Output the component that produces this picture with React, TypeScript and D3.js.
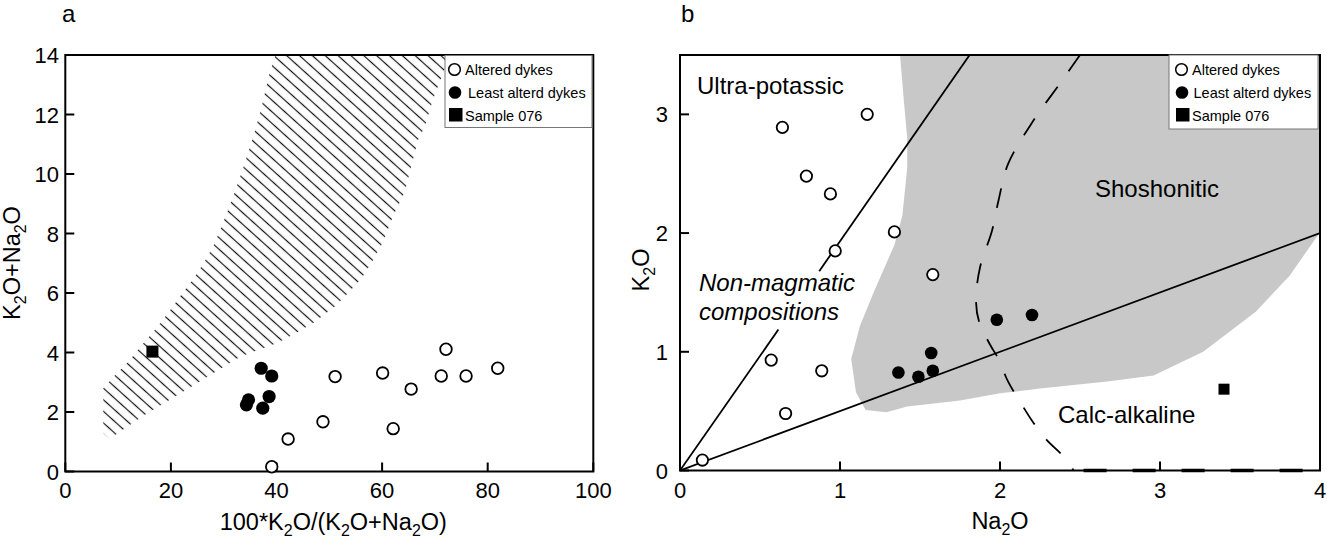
import React from "react";
import * as d3 from "d3";

// ---------- Panel a data ----------
const alteredA_x = [72.1, 51.1, 60.1, 65.5, 71.2, 75.9, 81.9, 48.8, 62.1, 42.2, 39.1];
const alteredA_y = [4.11, 3.19, 3.31, 2.77, 3.21, 3.21, 3.47, 1.67, 1.44, 1.09, 0.16];
const leastA_x = [37.1, 39.1, 38.6, 34.7, 34.3, 37.4];
const leastA_y = [3.47, 3.21, 2.52, 2.41, 2.24, 2.13];
const sampleA_x = [16.5];
const sampleA_y = [4.03];
const xTicksA = [0, 20, 40, 60, 80, 100];
const yTicksA = [0, 2, 4, 6, 8, 10, 12, 14];

// hatched field (upper-left boundary bottom->top, lower-right boundary top->bottom)
const hatchUpperX = [7.2, 7.2, 9.5, 12, 14.8, 17.2, 19.5, 21.8, 24.1, 26.2, 28.0, 29.6, 31.8, 34.0, 35.6, 37.2, 38.7, 39.8];
const hatchUpperY = [1.28, 2.8, 3.25, 3.7, 4.31, 4.81, 5.34, 5.9, 6.44, 7.0, 7.56, 8.23, 9.24, 10.36, 11.25, 12.26, 13.4, 14];
const hatchLowerX = [74, 72.2, 69.6, 68.1, 66.8, 64.3, 62.1, 60.2, 58.3, 56.1, 53.5, 51.0, 46.9, 43.1, 40.0, 33.1, 23.0, 15, 8.4];
const hatchLowerY = [14, 13.7, 12.49, 11.6, 11.14, 9.4, 8.6, 7.72, 7.11, 6.49, 5.99, 5.54, 4.98, 4.6, 4.31, 3.86, 2.76, 1.9, 1.1];

// ---------- Panel b data ----------
const alteredB_na = [0.14, 0.57, 0.66, 0.886, 0.97, 1.34, 1.58, 0.64, 1.17, 0.79, 0.94];
const alteredB_k = [0.088, 0.93, 0.48, 0.84, 1.85, 2.01, 1.65, 2.89, 3.0, 2.48, 2.33];
const leastB_na = [1.365, 1.49, 1.58, 1.57, 1.98, 2.2];
const leastB_k = [0.826, 0.79, 0.84, 0.99, 1.27, 1.31];
const sampleB_na = [3.4];
const sampleB_k = [0.685];
const xTicksB = [0, 1, 2, 3, 4];
const yTicksB = [0, 1, 2, 3];

const grayX = [1.375, 1.4, 1.42, 1.42, 1.39, 1.34, 1.21, 1.125, 1.07, 1.1, 1.16, 1.29, 1.42, 1.75, 2.0, 2.25, 2.67, 2.96, 3.27, 3.6, 3.81, 3.97, 4.0, 4.0];
const grayY = [3.5, 3.1, 2.8, 2.55, 2.15, 1.9, 1.5, 1.22, 0.94, 0.66, 0.51, 0.49, 0.54, 0.59, 0.65, 0.69, 0.75, 0.8, 1.0, 1.34, 1.64, 1.95, 2.0, 3.5];

// ultra-potassic boundary (with gap for label), shoshonitic / calc-alkaline boundary
const line1Lower = [[0, 0], [0.615, 1.187]];
const line1Upper = [[0.87, 1.679], [1.81, 3.5]];
const line2 = [[0, 0], [4, 2]];
const dashX = [2.5, 2.375, 2.21, 2.05, 1.99, 1.95, 1.875, 1.85, 1.87, 1.94, 1.99, 2.05, 2.125, 2.21, 2.29, 2.41, 2.46];
const dashY = [3.5, 3.26, 2.95, 2.58, 2.27, 2.02, 1.71, 1.43, 1.25, 1.055, 0.94, 0.75, 0.58, 0.4, 0.26, 0.1, 0];
const dashAxis = [[2.46, 0], [4, 0]];

const legendLabels = ["Altered dykes", "Least alterd dykes", "Sample 076"];

const FONT = "'Liberation Sans', Arial, Helvetica, sans-serif";

const xA = d3.scaleLinear().domain([0, 100]).range([65.3, 593.3]);
const yA = d3.scaleLinear().domain([0, 14]).range([471.5, 55]);
const xB = d3.scaleLinear().domain([0, 4]).range([680, 1320]);
const yB = d3.scaleLinear().domain([0, 3.5]).range([470.5, 55]);

function Sub({ parts }: { parts: (string | [string])[] }) {
  const out: any[] = [];
  let down = false;
  parts.forEach((p, i) => {
    if (Array.isArray(p)) {
      out.push(
        <tspan key={i} fontSize="0.68em" dy={down ? 0 : 6}>
          {p[0]}
        </tspan>
      );
      down = true;
    } else {
      out.push(
        <tspan key={i} dy={down ? -6 : 0}>
          {p}
        </tspan>
      );
      down = false;
    }
  });
  return <>{out}</>;
}

function Legend({ x0, y0, w, h, cx, tx }: { x0: number; y0: number; w: number; h: number; cx: number; tx: number[] }) {
  const rows = [75, 97.5, 121];
  return (
    <g fontFamily={FONT} fontSize={14.5}>
      <rect x={x0} y={y0} width={w} height={h} fill="#fff" stroke="#777" strokeWidth={1} />
      <circle cx={cx} cy={69.5} r={5.8} fill="#fff" stroke="#000" strokeWidth={1.5} />
      <circle cx={cx + 0.5} cy={92.5} r={6.3} fill="#000" />
      <rect x={cx - 5.5} y={108} width={13.5} height={13.5} fill="#000" />
      {legendLabels.map((l, i) => (
        <text key={l} x={tx[i]} y={rows[i]} fill="#000">
          {l}
        </text>
      ))}
    </g>
  );
}

export default function App() {
  const lineA = d3.line<[number, number]>().x((d) => xA(d[0])).y((d) => yA(d[1]));
  const lineB = d3.line<[number, number]>().x((d) => xB(d[0])).y((d) => yB(d[1]));
  const curveB = d3
    .line<[number, number]>()
    .x((d) => xB(d[0]))
    .y((d) => yB(d[1]))
    .curve(d3.curveCatmullRom);

  const hatchPts: [number, number][] = [
    ...hatchUpperX.map((x, i) => [x, hatchUpperY[i]] as [number, number]),
    ...hatchLowerX.map((x, i) => [x, hatchLowerY[i]] as [number, number]),
  ];
  const grayPts: [number, number][] = grayX.map((x, i) => [x, grayY[i]]);
  const dashPts: [number, number][] = dashX.map((x, i) => [x, dashY[i]]);

  const tickLen = 9;

  return (
    <svg
      width={1327}
      height={544}
      style={{ position: "absolute", left: 0, top: 0, background: "#fff" }}
      fontFamily={FONT}
    >
      <defs>
        <pattern id="hatch" patternUnits="userSpaceOnUse" width={12} height={8.6} patternTransform="rotate(42)">
          <line x1={0} y1={4.3} x2={12} y2={4.3} stroke="#111" strokeWidth={1.2} />
        </pattern>
        <clipPath id="clipA">
          <rect x={xA(0)} y={yA(14)} width={xA(100) - xA(0)} height={yA(0) - yA(14)} />
        </clipPath>
        <clipPath id="clipB">
          <rect x={xB(0)} y={yB(3.5)} width={xB(4) - xB(0)} height={yB(0) - yB(3.5)} />
        </clipPath>
      </defs>

      {/* ---------------- Panel a ---------------- */}
      <text x={62} y={22} fontSize={24}>a</text>
      <g clipPath="url(#clipA)">
        <path d={(lineA(hatchPts) || "") + "Z"} fill="url(#hatch)" stroke="none" />
      </g>
      <rect x={xA(0)} y={yA(14)} width={xA(100) - xA(0)} height={yA(0) - yA(14)} fill="none" stroke="#000" strokeWidth={2} />
      {xTicksA.map((t) => (
        <g key={"xa" + t}>
          <line x1={xA(t)} x2={xA(t)} y1={yA(0)} y2={yA(0) - tickLen} stroke="#000" strokeWidth={2} />
          <text x={xA(t)} y={498} fontSize={22} textAnchor="middle">{t}</text>
        </g>
      ))}
      {yTicksA.map((t) => (
        <g key={"ya" + t}>
          <line x1={xA(0)} x2={xA(0) + tickLen} y1={yA(t)} y2={yA(t)} stroke="#000" strokeWidth={2} />
          <text x={59} y={yA(t) + 8} fontSize={22} textAnchor="end">{t}</text>
        </g>
      ))}
      <text x={(xA(0) + xA(100)) / 2 + 4} y={530} fontSize={23.5} textAnchor="middle">
        <Sub parts={["100*K", ["2"], "O/(K", ["2"], "O+Na", ["2"], "O)"]} />
      </text>
      <text transform={`translate(19.5,${263}) rotate(-90)`} fontSize={23.5} textAnchor="middle">
        <Sub parts={["K", ["2"], "O+Na", ["2"], "O"]} />
      </text>

      {alteredA_x.map((x, i) => (
        <circle key={"oa" + i} cx={xA(x)} cy={yA(alteredA_y[i])} r={5.8} fill="#fff" stroke="#000" strokeWidth={1.8} />
      ))}
      {leastA_x.map((x, i) => (
        <circle key={"fa" + i} cx={xA(x)} cy={yA(leastA_y[i])} r={6.6} fill="#000" />
      ))}
      {sampleA_x.map((x, i) => (
        <rect key={"sa" + i} x={xA(x) - 6} y={yA(sampleA_y[i]) - 6} width={12} height={12} fill="#000" />
      ))}
      <Legend x0={445} y0={55.5} w={147} h={72} cx={454.5} tx={[465, 468, 465]} />

      {/* ---------------- Panel b ---------------- */}
      <text x={681} y={22} fontSize={24}>b</text>
      <g clipPath="url(#clipB)">
        <path d={(lineB(grayPts) || "") + "Z"} fill="#c8c8c8" stroke="none" />
        <path d={lineB(line1Lower as any) || ""} fill="none" stroke="#000" strokeWidth={1.8} />
        <path d={lineB(line1Upper as any) || ""} fill="none" stroke="#000" strokeWidth={1.8} />
        <path d={lineB(line2 as any) || ""} fill="none" stroke="#000" strokeWidth={1.8} />
        <path d={curveB(dashPts) || ""} fill="none" stroke="#000" strokeWidth={1.8} strokeDasharray="20,19" />
      </g>
      <rect x={xB(0)} y={yB(3.5)} width={xB(4) - xB(0)} height={yB(0) - yB(3.5)} fill="none" stroke="#000" strokeWidth={2} />
      <path d={lineB(dashAxis as any) || ""} fill="none" stroke="#000" strokeWidth={3.5} strokeDasharray="23,26" strokeDashoffset={-10} />
      {xTicksB.map((t) => (
        <g key={"xb" + t}>
          <line x1={xB(t)} x2={xB(t)} y1={yB(0)} y2={yB(0) - tickLen} stroke="#000" strokeWidth={2} />
          <text x={xB(t)} y={498} fontSize={22} textAnchor="middle">{t}</text>
        </g>
      ))}
      {yTicksB.map((t) => (
        <g key={"yb" + t}>
          <line x1={xB(0)} x2={xB(0) + tickLen} y1={yB(t)} y2={yB(t)} stroke="#000" strokeWidth={2} />
          <text x={668} y={yB(t) + 8} fontSize={22} textAnchor="end">{t}</text>
        </g>
      ))}
      <text x={(xB(0) + xB(4)) / 2} y={529} fontSize={23.5} textAnchor="middle">
        <Sub parts={["Na", ["2"], "O"]} />
      </text>
      <text transform={`translate(649,${270}) rotate(-90)`} fontSize={23.5} textAnchor="middle">
        <Sub parts={["K", ["2"], "O"]} />
      </text>

      <text x={697} y={93.5} fontSize={24}>Ultra-potassic</text>
      <text x={1095} y={197} fontSize={24}>Shoshonitic</text>
      <text x={1058} y={423} fontSize={24}>Calc-alkaline</text>
      <text x={699} y={291} fontSize={24} fontStyle="italic">Non-magmatic</text>
      <text x={699} y={320} fontSize={24} fontStyle="italic">compositions</text>

      {alteredB_na.map((x, i) => (
        <circle key={"ob" + i} cx={xB(x)} cy={yB(alteredB_k[i])} r={5.7} fill="#fff" stroke="#000" strokeWidth={1.8} />
      ))}
      {leastB_na.map((x, i) => (
        <circle key={"fb" + i} cx={xB(x)} cy={yB(leastB_k[i])} r={6.3} fill="#000" />
      ))}
      {sampleB_na.map((x, i) => (
        <rect key={"sb" + i} x={xB(x) - 5.5} y={yB(sampleB_k[i]) - 5.5} width={11} height={11} fill="#000" />
      ))}
      <Legend x0={1169} y0={55} w={149} h={74} cx={1181.5} tx={[1192, 1193.5, 1192]} />
    </svg>
  );
}
